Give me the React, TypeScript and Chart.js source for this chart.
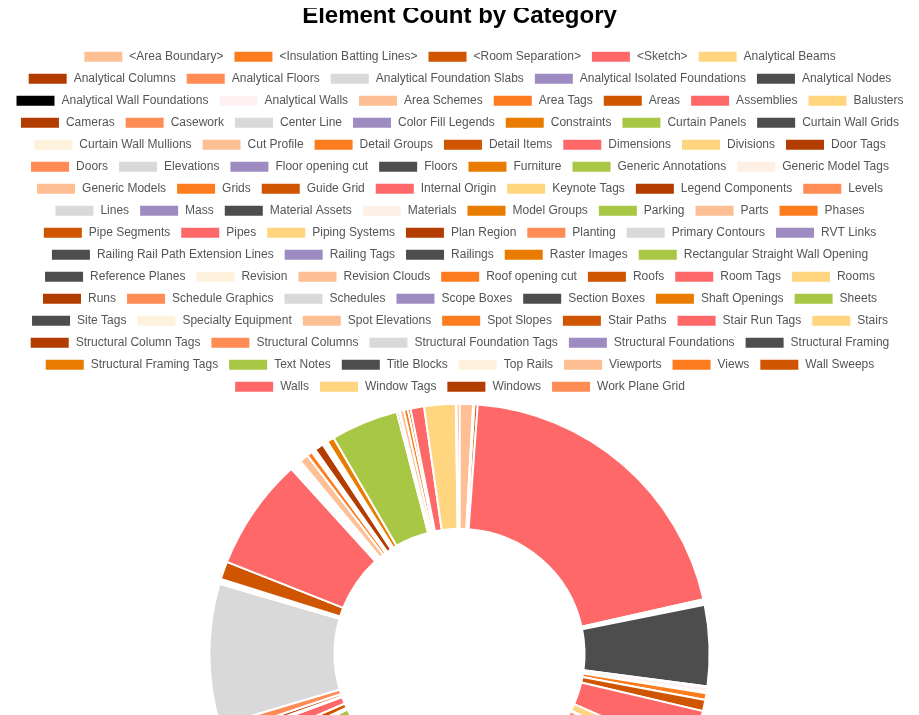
import { useEffect, useRef } from "react";
import Chart from "chart.js/auto";

const categories = [
  "<Area Boundary>", "<Insulation Batting Lines>", "<Room Separation>", "<Sketch>", "Analytical Beams",
  "Analytical Columns", "Analytical Floors", "Analytical Foundation Slabs", "Analytical Isolated Foundations", "Analytical Nodes",
  "Analytical Wall Foundations", "Analytical Walls", "Area Schemes", "Area Tags", "Areas",
  "Assemblies", "Balusters", "Cameras", "Casework", "Center Line",
  "Color Fill Legends", "Constraints", "Curtain Panels", "Curtain Wall Grids", "Curtain Wall Mullions",
  "Cut Profile", "Detail Groups", "Detail Items", "Dimensions", "Divisions",
  "Door Tags", "Doors", "Elevations", "Floor opening cut", "Floors",
  "Furniture", "Generic Annotations", "Generic Model Tags", "Generic Models", "Grids",
  "Guide Grid", "Internal Origin", "Keynote Tags", "Legend Components", "Levels",
  "Lines", "Mass", "Material Assets", "Materials", "Model Groups",
  "Parking", "Parts", "Phases", "Pipe Segments", "Pipes",
  "Piping Systems", "Plan Region", "Planting", "Primary Contours", "RVT Links",
  "Railing Rail Path Extension Lines", "Railing Tags", "Railings", "Raster Images", "Rectangular Straight Wall Opening",
  "Reference Planes", "Revision", "Revision Clouds", "Roof opening cut", "Roofs",
  "Room Tags", "Rooms", "Runs", "Schedule Graphics", "Schedules",
  "Scope Boxes", "Section Boxes", "Shaft Openings", "Sheets", "Site Tags",
  "Specialty Equipment", "Spot Elevations", "Spot Slopes", "Stair Paths", "Stair Run Tags",
  "Stairs", "Structural Column Tags", "Structural Columns", "Structural Foundation Tags", "Structural Foundations",
  "Structural Framing", "Structural Framing Tags", "Text Notes", "Title Blocks", "Top Rails",
  "Viewports", "Views", "Wall Sweeps", "Walls", "Window Tags",
  "Windows", "Work Plane Grid",
];

const counts = [
  30, 3, 7, 700, 3,
  2, 2, 3, 2, 180,
  2, 10, 3, 15, 25,
  100, 30, 5, 60, 10,
  5, 5, 80, 40, 60,
  5, 10, 120, 80, 5,
  30, 60, 20, 3, 100,
  80, 40, 5, 50, 20,
  3, 2, 10, 10, 10,
  100, 5, 80, 60, 10,
  30, 5, 3, 20, 30,
  5, 10, 20, 314, 1,
  1, 1, 1, 1, 1,
  1, 1, 1, 2, 40,
  250, 4, 2, 2, 3,
  2, 2, 2, 3, 2,
  4, 20, 12, 4, 3,
  2, 20, 2, 4, 2,
  4, 16, 150, 5, 2,
  9, 9, 6, 30, 70,
  2, 6,
];

const colors = [
  "#febf94", "#fd7c1e", "#cf5500", "#ff6868", "#ffd580",
  "#b33c00", "#ff8c55", "#d9d9d9", "#9e8bc2", "#4d4d4d",
  "#000000", "#fff0f2", "#febf94", "#fd7c1e", "#cf5500",
  "#ff6868", "#ffd580", "#b33c00", "#ff8c55", "#d9d9d9",
  "#9e8bc2", "#e97b00", "#a8c744", "#4d4d4d", "#fff2dc",
  "#febf94", "#fd7c1e", "#cf5500", "#ff6868", "#ffd580",
  "#b33c00", "#ff8c55", "#d9d9d9", "#9e8bc2", "#4d4d4d",
  "#e97b00", "#a8c744", "#fff0e6", "#febf94", "#fd7c1e",
  "#cf5500", "#ff6868", "#ffd580", "#b33c00", "#ff8c55",
  "#d9d9d9", "#9e8bc2", "#4d4d4d", "#fff0e6", "#e97b00",
  "#a8c744", "#febf94", "#fd7c1e", "#cf5500", "#ff6868",
  "#ffd580", "#b33c00", "#ff8c55", "#d9d9d9", "#9e8bc2",
  "#4d4d4d", "#9e8bc2", "#4d4d4d", "#e97b00", "#a8c744",
  "#4d4d4d", "#fff2dc", "#febf94", "#fd7c1e", "#cf5500",
  "#ff6868", "#ffd580", "#b33c00", "#ff8c55", "#d9d9d9",
  "#9e8bc2", "#4d4d4d", "#e97b00", "#a8c744", "#4d4d4d",
  "#fff2dc", "#febf94", "#fd7c1e", "#cf5500", "#ff6868",
  "#ffd580", "#b33c00", "#ff8c55", "#d9d9d9", "#9e8bc2",
  "#4d4d4d", "#e97b00", "#a8c744", "#4d4d4d", "#fff2dc",
  "#febf94", "#fd7c1e", "#cf5500", "#ff6868", "#ffd580",
  "#b33c00", "#ff8c55",
];

export default function App() {
  const canvasRef = useRef<HTMLCanvasElement>(null);
  const chartRef = useRef<Chart | null>(null);

  useEffect(() => {
    if (!canvasRef.current) return;
    if (chartRef.current) chartRef.current.destroy();

    chartRef.current = new Chart(canvasRef.current, {
      type: "doughnut",
      data: {
        labels: categories,
        datasets: [
          {
            data: counts,
            backgroundColor: colors,
            borderColor: "#ffffff",
            borderWidth: 2,
          },
        ],
      },
      options: {
        animation: false,
        responsive: true,
        maintainAspectRatio: false,
        cutout: "50%",
        layout: { padding: 0 },
        plugins: {
          title: {
            display: true,
            text: "Element Count by Category",
            color: "#000",
            font: { family: "Liberation Sans, Arial, sans-serif", size: 24, weight: "bold" },
            padding: { top: 2, bottom: 10 },
          },
          legend: {
            position: "top",
            labels: {
              boxWidth: 40,
              boxHeight: 12,
              padding: 10,
              color: "#555",
              font: { family: "Liberation Sans, Arial, sans-serif", size: 12 },
            },
          },
          tooltip: { enabled: false },
        },
      },
    });

    return () => {
      if (chartRef.current) {
        chartRef.current.destroy();
        chartRef.current = null;
      }
    };
  }, []);

  return (
    <div style={{ height: 715, overflow: "hidden", margin: "-8px 0 0 -8px", width: 919 }}>
      <div style={{ position: "relative", width: 919, height: 905 }}>
        <canvas ref={canvasRef}></canvas>
      </div>
    </div>
  );
}
